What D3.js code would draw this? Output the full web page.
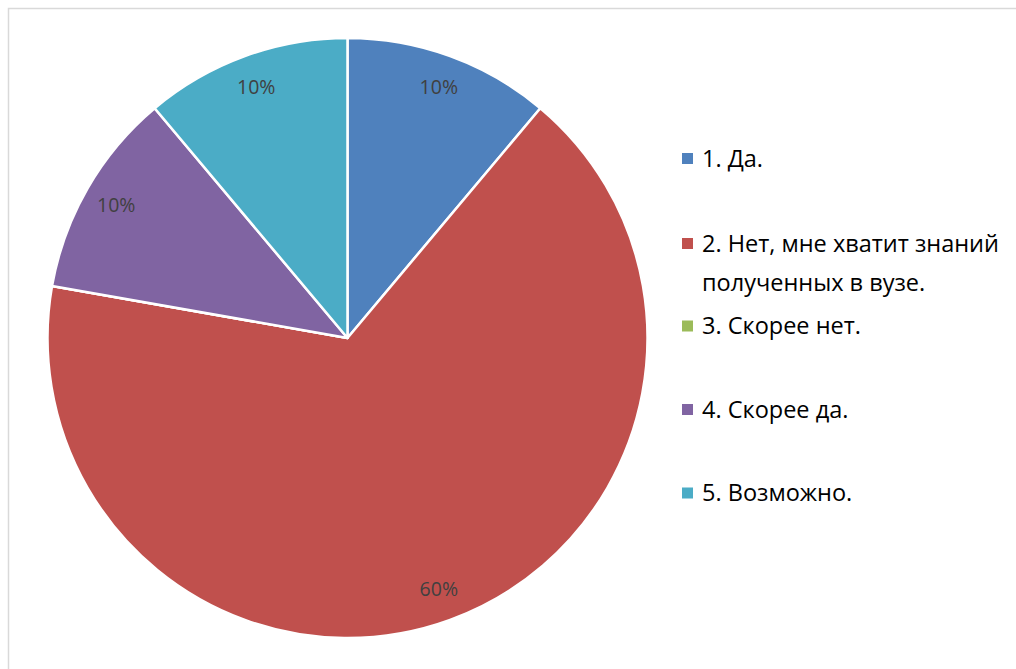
<!DOCTYPE html>
<html>
<head>
<meta charset="utf-8">
<script src="https://cdn.jsdelivr.net/npm/d3@7"></script>
<style>
  html, body { margin: 0; padding: 0; background: #fff; overflow: hidden; }
  svg { display: block; }
</style>
</head>
<body>
<svg id="chart" width="1016" height="669"></svg>
<script>
// answers and their shares (Excel normalises them, sum is 90)
const categories = ["1. Да.", "2. Нет, мне хватит знаний полученных в вузе.", "3. Скорее нет.", "4. Скорее да.", "5. Возможно."];
const values = [10, 60, 0, 10, 10];
const labels = ["10%", "60%", "0%", "10%", "10%"];
const colors = ["#4F81BD", "#C0504D", "#9BBB59", "#8064A2", "#4BACC6"];

const cx = 347.5, cy = 338, radius = 300;

const svg = d3.select("#chart");

// chart area frame: only top and left edges are inside the picture
svg.append("path")
  .attr("d", "M8.5,669 V8.5 H1016")
  .attr("fill", "none")
  .attr("stroke", "#d9d9d9")
  .attr("stroke-width", 1.5);

const data = categories.map((c, i) => ({ name: c, value: values[i], label: labels[i], color: colors[i] }));

const pie = d3.pie().sort(null).value(d => d.value);
const arc = d3.arc().innerRadius(0).outerRadius(radius);
const labelArc = d3.arc().innerRadius(267).outerRadius(267);

const g = svg.append("g").attr("transform", `translate(${cx},${cy})`);

const arcs = pie(data);

g.selectAll("path.slice")
  .data(arcs)
  .enter().append("path")
  .attr("class", "slice")
  .attr("d", arc)
  .attr("fill", d => d.data.color)
  .attr("stroke", "#fff")
  .attr("stroke-width", 2.5)
  .attr("stroke-linejoin", "round");

// data labels, skip empty slice
g.selectAll("text.lbl")
  .data(arcs.filter(d => d.data.value > 0))
  .enter().append("text")
  .attr("class", "lbl")
  .attr("transform", d => `translate(${labelArc.centroid(d)})`)
  .attr("text-anchor", "middle")
  .attr("dy", "0.36em")
  .attr("font-family", "'Open Sans', 'Noto Sans', sans-serif")
  .attr("font-size", 19.5)
  .attr("fill", "#404040")
  .text(d => d.data.label);

// legend
const legendX = 682;
const legendRows = [158.5, 243.5, 326, 409.5, 493];
const legendLines = [["1. Да."], ["2. Нет, мне хватит знаний", "полученных в вузе."], ["3. Скорее нет."], ["4. Скорее да."], ["5. Возможно."]];

const legend = svg.append("g");
data.forEach((d, i) => {
  const y = legendRows[i];
  legend.append("rect")
    .attr("x", legendX).attr("y", y - 5.5)
    .attr("width", 11).attr("height", 11)
    .attr("fill", d.color);
  const t = legend.append("text")
    .attr("y", y)
    .attr("font-family", "'Open Sans', 'Noto Sans', sans-serif")
    .attr("font-size", 23.5)
    .attr("fill", "#000");
  legendLines[i].forEach((line, j) => {
    t.append("tspan")
      .attr("x", legendX + 20)
      .attr("dy", j === 0 ? "0.36em" : 39)
      .text(line);
  });
});
</script>
</body>
</html>
